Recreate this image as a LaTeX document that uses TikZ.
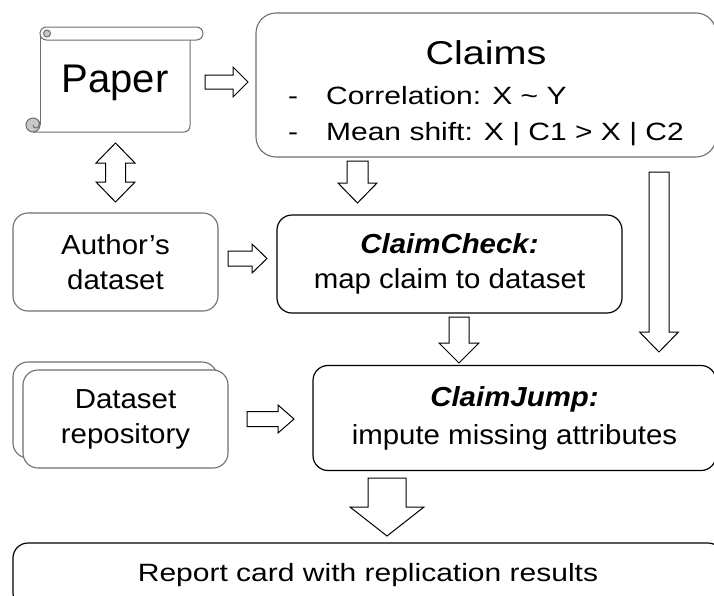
\documentclass[tikz,border=0pt]{standalone}
\usepackage{fontspec}
\setmainfont{Liberation Sans}
\newfontfamily\widesf{Liberation Sans}[FakeStretch=1.2]
\newfontfamily\boxsf{Liberation Sans}[FakeStretch=1.07]
\usetikzlibrary{calc}
\definecolor{edgegray}{HTML}{6E6E6E}
\definecolor{curlgray}{HTML}{C8C8C8}

\begin{document}
\begin{tikzpicture}[
    x=1pt, y=-1pt,
    graybox/.style={draw=edgegray, line width=1.1pt, rounded corners=15pt, fill=white, align=center, inner sep=0pt, font=\boxsf\fontsize{27.5}{35}\selectfont},
    blackbox/.style={graybox, draw=black, line width=1.2pt},
    % block arrows: shaft half width, head half width, head length
    rightblk/.style n args={3}{draw, fill=white, line width=1pt, to path={let \p1=(\tikztostart), \p2=(\tikztotarget) in
        (\x1,\y1-#1) -- (\x2-#3,\y1-#1) -- (\x2-#3,\y1-#2) -- (\x2,\y1) -- (\x2-#3,\y1+#2) -- (\x2-#3,\y1+#1) -- (\x1,\y1+#1) -- cycle}},
    downblk/.style n args={3}{draw, fill=white, line width=1pt, to path={let \p1=(\tikztostart), \p2=(\tikztotarget) in
        (\x1-#1,\y1) -- (\x1+#1,\y1) -- (\x1+#1,\y2+#3) -- (\x1+#2,\y2+#3) -- (\x1,\y2) -- (\x1-#2,\y2+#3) -- (\x1-#1,\y2+#3) -- cycle}},
    bothblk/.style n args={3}{draw, fill=white, line width=1pt, to path={let \p1=(\tikztostart), \p2=(\tikztotarget) in
        (\x1,\y1) -- (\x1+#2,\y1-#3) -- (\x1+#1,\y1-#3) -- (\x1+#1,\y2+#3) -- (\x1+#2,\y2+#3) -- (\x1,\y2)
        -- (\x1-#2,\y2+#3) -- (\x1-#1,\y2+#3) -- (\x1-#1,\y1-#3) -- (\x1-#2,\y1-#3) -- cycle}},
]
\useasboundingbox (0,0) rectangle (714,595);
\clip (0,0) rectangle (714,595);

% Paper scroll
\fill[white] (40,40) rectangle (190,132);
\draw[edgegray, line width=1pt] (40,34) -- (40,125);
\draw[edgegray, line width=1pt, rounded corners=6pt] (33,132) -- (190,132) -- (190,40);
\draw[edgegray, line width=1pt, fill=white, rounded corners=6.5pt] (40,27) rectangle (203,40);
\draw[edgegray, line width=1pt, fill=curlgray] (47,33.5) circle (3.5pt);
\draw[edgegray, line width=1pt, fill=curlgray] (33,125) circle (7pt);
\draw[edgegray, line width=1pt] (33,125) arc (180:360:3pt) -- (39,121);
\node[font=\fontsize{40}{48}\selectfont, inner sep=0pt] (paper) at (115,83) {Paper};

% Boxes
\node[graybox, minimum width=460pt, minimum height=144pt, rounded corners=20pt] (claims) at (486,85)
    {\widesf\fontsize{33}{37}\selectfont\rule{0pt}{46pt}Claims\\[5pt]
     \widesf\fontsize{25}{36}\selectfont
     \begin{tabular}[t]{@{}l@{\hspace{28pt}}l@{}}-&Correlation: X \textasciitilde{} Y\\-&Mean shift: X | C1 > X | C2\end{tabular}};
\node[graybox, minimum width=205pt, minimum height=98pt] (author) at (115.5,262) {Author’s\\dataset};
\node[blackbox, minimum width=345pt, minimum height=98pt] (check) at (449.5,264) {\textbf{\textit{ClaimCheck:}}\\map claim to dataset};
\node[graybox, minimum width=204pt, minimum height=96pt] (repoback) at (115,410) {};
\node[graybox, minimum width=205pt, minimum height=98pt] (repo) at (125.5,419) {Dataset\\repository};
\node[blackbox, minimum width=403pt, minimum height=105pt] (jump) at (514.5,418) {\textbf{\textit{ClaimJump:}}\\[3pt]impute missing attributes};
\node[blackbox, minimum width=710pt, minimum height=65pt, font=\widesf\fontsize{25}{30}\selectfont] (report) at (368,575.5) {Report card with replication results};

% Arrow ends
\coordinate (paper2claims-s) at (205,82);
\coordinate (paper2claims-e) at (248,82);
\coordinate (paper2author-s) at (115.5,143);
\coordinate (paper2author-e) at (115.5,202);
\coordinate (author2check-s) at (228,258.5);
\coordinate (author2check-e) at (267,258.5);
\coordinate (claims2check-s) at (357.5,161);
\coordinate (claims2check-e) at (357.5,203);
\coordinate (claims2jump-s) at (659,172);
\coordinate (claims2jump-e) at (659,352);
\coordinate (check2jump-s) at (459,317);
\coordinate (check2jump-e) at (459,363);
\coordinate (repo2jump-s) at (247,419);
\coordinate (repo2jump-e) at (294,419);
\coordinate (jump2report-s) at (387,478);
\coordinate (jump2report-e) at (387,536);

% Block arrows
\draw[rightblk={7pt}{15pt}{15pt}] (paper2claims-s) to (paper2claims-e);
\draw[bothblk={10pt}{19.5pt}{20pt}] (paper2author-s) to (paper2author-e);
\draw[rightblk={7.5pt}{14.5pt}{15pt}] (author2check-s) to (author2check-e);
\draw[downblk={10.5pt}{19.5pt}{20pt}] (claims2check-s) to (claims2check-e);
\draw[downblk={10pt}{19.5pt}{20pt}] (claims2jump-s) to (claims2jump-e);
\draw[downblk={10pt}{20pt}{20pt}] (check2jump-s) to (check2jump-e);
\draw[rightblk={7.5pt}{14pt}{16pt}] (repo2jump-s) to (repo2jump-e);
\draw[downblk={19pt}{37pt}{29pt}] (jump2report-s) to (jump2report-e);
\end{tikzpicture}
\end{document}
